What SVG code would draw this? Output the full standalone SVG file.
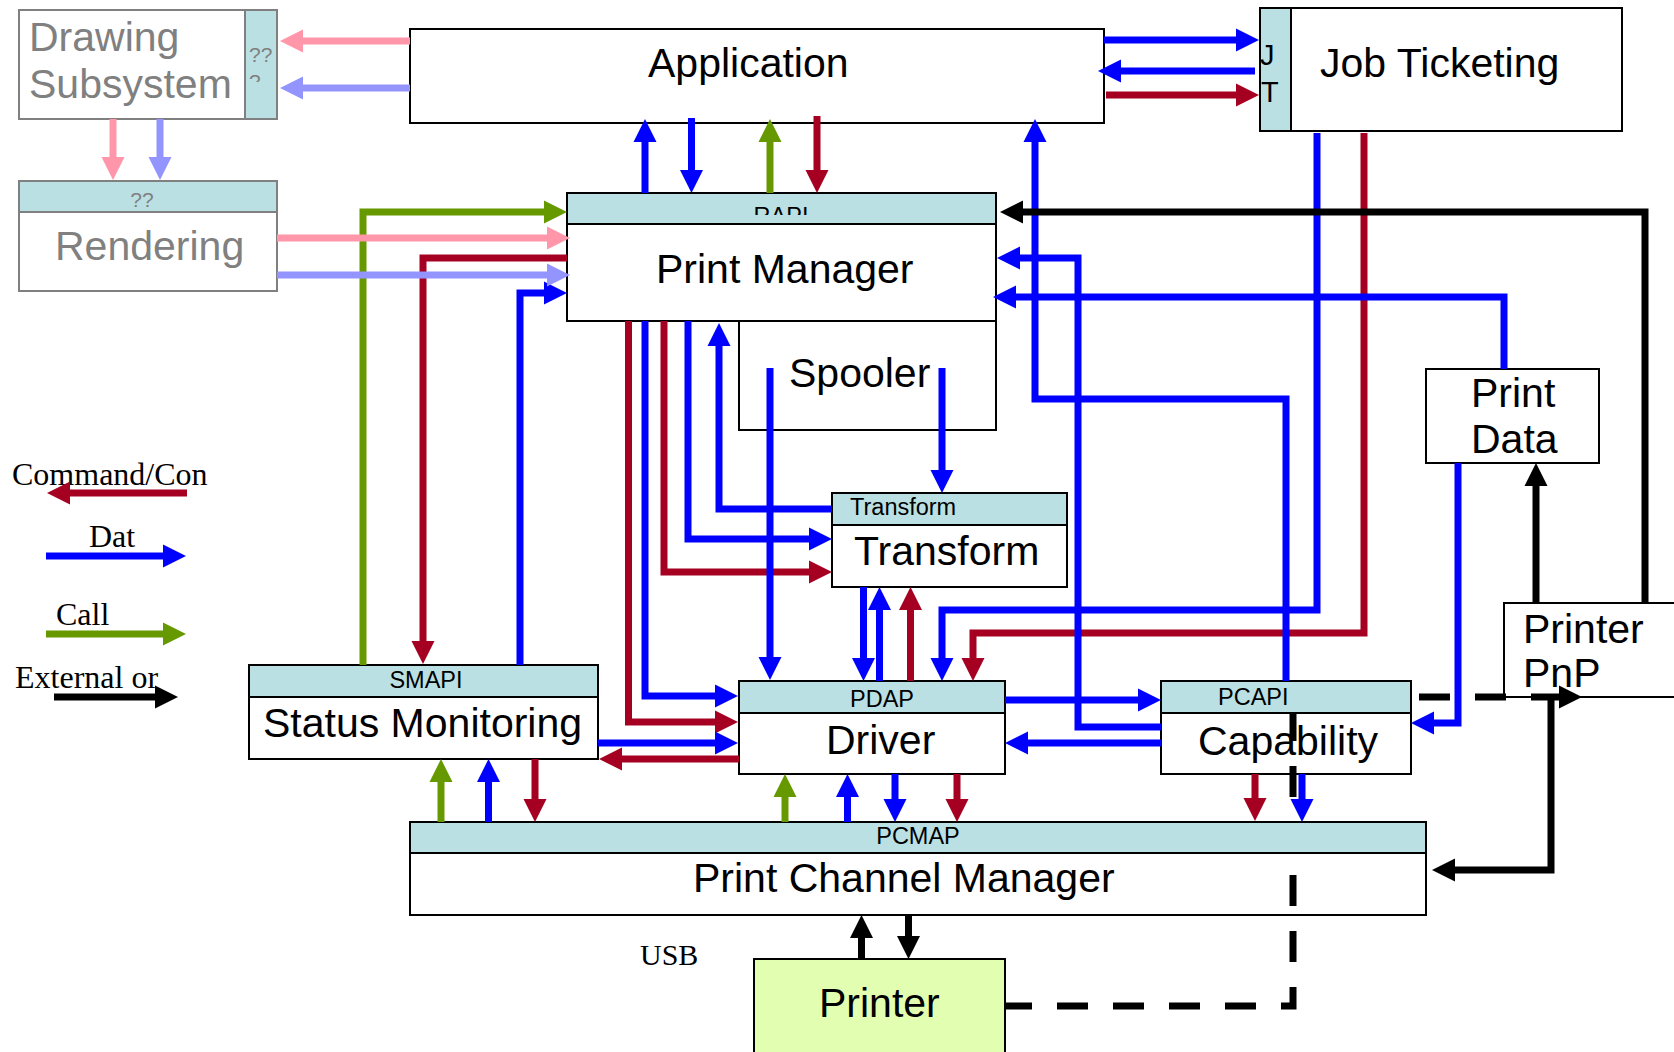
<svg xmlns="http://www.w3.org/2000/svg" width="1674" height="1052" viewBox="0 0 1674 1052">
<style>
.box{fill:#fff;stroke:#000;stroke-width:2}
.tab{fill:#bbe0e3;stroke:#000;stroke-width:2}
.gbox{fill:#fff;stroke:#808080;stroke-width:2}
.gtab{fill:#bbe0e3;stroke:#808080;stroke-width:2}
.t{font-family:"Liberation Sans",Arial,sans-serif;font-size:41px;fill:#000}
.g{fill:#808080}
.s{font-family:"Liberation Sans",Arial,sans-serif;font-size:23.5px;fill:#000}
.sg{font-family:"Liberation Sans",Arial,sans-serif;font-size:21px;fill:#808080}
.leg{font-family:"Liberation Serif","Times New Roman",serif;font-size:32px;fill:#000}
.c{fill:none;stroke-width:7;stroke-linejoin:miter}
.red{stroke:#a50021}
.blue{stroke:#0000ff}
.green{stroke:#669900}
.pink{stroke:#ff96aa}
.lav{stroke:#9494ff}
.black{stroke:#000}
.dash{stroke-dasharray:31 25}
</style>
<defs>
<marker id="mRed" markerUnits="userSpaceOnUse" markerWidth="23" markerHeight="23" refX="13" refY="11.5" orient="auto" overflow="visible"><path d="M0,0 L23,11.5 L0,23 z" fill="#a50021"/></marker>
<marker id="mBlue" markerUnits="userSpaceOnUse" markerWidth="23" markerHeight="23" refX="13" refY="11.5" orient="auto" overflow="visible"><path d="M0,0 L23,11.5 L0,23 z" fill="#0000ff"/></marker>
<marker id="mGreen" markerUnits="userSpaceOnUse" markerWidth="23" markerHeight="23" refX="13" refY="11.5" orient="auto" overflow="visible"><path d="M0,0 L23,11.5 L0,23 z" fill="#669900"/></marker>
<marker id="mPink" markerUnits="userSpaceOnUse" markerWidth="23" markerHeight="23" refX="13" refY="11.5" orient="auto" overflow="visible"><path d="M0,0 L23,11.5 L0,23 z" fill="#ff96aa"/></marker>
<marker id="mLav" markerUnits="userSpaceOnUse" markerWidth="23" markerHeight="23" refX="13" refY="11.5" orient="auto" overflow="visible"><path d="M0,0 L23,11.5 L0,23 z" fill="#9494ff"/></marker>
<marker id="mBlack" markerUnits="userSpaceOnUse" markerWidth="23" markerHeight="23" refX="13" refY="11.5" orient="auto" overflow="visible"><path d="M0,0 L23,11.5 L0,23 z" fill="#000"/></marker>
<clipPath id="clipRapi"><rect x="567" y="193" width="429" height="22"/></clipPath>
<clipPath id="clipQ"><rect x="245" y="10" width="32" height="72"/></clipPath>
</defs>

<rect width="1674" height="1052" fill="#fff"/>

<g id="drawing-subsystem">
<rect class="gbox" x="19" y="10" width="258" height="109"/>
<rect class="gtab" x="245" y="10" width="32" height="109"/>
<text class="t g" x="29" y="51">Drawing</text>
<text class="t g" x="29" y="98">Subsystem</text>
<g clip-path="url(#clipQ)">
<text class="sg" x="249" y="62">??</text>
<text class="sg" x="249" y="89">?</text>
</g>
</g>

<g id="rendering">
<rect class="gbox" x="19" y="181" width="258" height="110"/>
<rect class="gtab" x="19" y="181" width="258" height="31"/>
<text class="sg" x="142" y="207" text-anchor="middle">??</text>
<text class="t g" x="55" y="260">Rendering</text>
</g>

<g id="application">
<rect class="box" x="410" y="29" width="694" height="94"/>
<text class="t" x="648" y="77">Application</text>
</g>

<g id="job-ticketing">
<rect class="box" x="1291" y="8" width="331" height="123"/>
<rect class="tab" x="1260" y="8" width="31" height="123"/>
<text class="t" x="1260" y="65" style="font-size:29px">J</text>
<text class="t" x="1261" y="102" style="font-size:29px">T</text>
<text class="t" x="1320" y="77">Job Ticketing</text>
</g>

<g id="print-manager">
<rect class="tab" x="567" y="193" width="429" height="31"/>
<text class="s" x="781" y="224" text-anchor="middle" clip-path="url(#clipRapi)">RAPI</text>
<rect class="box" x="567" y="224" width="429" height="97"/>
<text class="t" x="656" y="283">Print Manager</text>
</g>

<g id="spooler">
<rect class="box" x="739" y="321" width="257" height="109"/>
<text class="t" x="789" y="387">Spooler</text>
</g>

<g id="transform">
<rect class="box" x="832" y="525" width="235" height="62"/>
<rect class="tab" x="832" y="493" width="235" height="32"/>
<text class="s" x="850" y="515">Transform</text>
<text class="t" x="854" y="565">Transform</text>
</g>

<g id="driver">
<rect class="box" x="739" y="713" width="266" height="61"/>
<rect class="tab" x="739" y="681" width="266" height="32"/>
<text class="s" x="882" y="707" text-anchor="middle">PDAP</text>
<text class="t" x="826" y="754">Driver</text>
</g>

<g id="status-monitoring">
<rect class="box" x="249" y="697" width="349" height="62"/>
<rect class="tab" x="249" y="665" width="349" height="32"/>
<text class="s" x="426" y="688" text-anchor="middle">SMAPI</text>
<text class="t" x="263" y="737">Status Monitoring</text>
</g>

<g id="capability">
<rect class="box" x="1161" y="713" width="250" height="61"/>
<rect class="tab" x="1161" y="681" width="250" height="32"/>
<text class="s" x="1218" y="705">PCAPI</text>
<text class="t" x="1198" y="755">Capability</text>
</g>

<g id="print-channel-manager">
<rect class="box" x="410" y="853" width="1016" height="62"/>
<rect class="tab" x="410" y="822" width="1016" height="31"/>
<text class="s" x="918" y="844" text-anchor="middle">PCMAP</text>
<text class="t" x="693" y="892">Print Channel Manager</text>
</g>

<g id="printer">
<rect x="754" y="959" width="251" height="100" fill="#e2ffb1" stroke="#000" stroke-width="2"/>
<text class="t" x="819" y="1017">Printer</text>
</g>

<g id="print-data">
<rect class="box" x="1426" y="369" width="173" height="94"/>
<text class="t" x="1471" y="407">Print</text>
<text class="t" x="1471" y="453">Data</text>
</g>

<g id="printer-pnp">
<rect class="box" x="1504" y="603" width="180" height="94"/>
<text class="t" x="1523" y="643">Printer</text>
<text class="t" x="1523" y="687">PnP</text>
</g>

<g id="legend">
<text class="leg" x="12" y="485">Command/Con</text>
<text class="leg" x="89" y="547">Dat</text>
<text class="leg" x="56" y="625">Call</text>
<text class="leg" x="15" y="688">External or</text>
<text class="leg" x="640" y="965" style="font-size:30px">USB</text>
</g>

<g id="connectors">
<path class="c green" marker-end="url(#mGreen)" d="M363,665 V212 H557"/>
<path class="c green" marker-end="url(#mGreen)" d="M770,193 V129"/>
<path class="c green" marker-end="url(#mGreen)" d="M441,822 V769"/>
<path class="c green" marker-end="url(#mGreen)" d="M785,822 V784"/>
<path class="c green" marker-end="url(#mGreen)" d="M46,634 H176"/>

<path class="c red" marker-end="url(#mRed)" d="M567,258 H423 V654"/>
<path class="c red" marker-end="url(#mRed)" d="M817,116 V183"/>
<path class="c red" marker-end="url(#mRed)" d="M1106,95 H1249"/>
<path class="c red" marker-end="url(#mRed)" d="M628.5,321 V722 H728"/>
<path class="c red" marker-end="url(#mRed)" d="M664,321 V572 H822"/>
<path class="c red" marker-end="url(#mRed)" d="M910.5,681 V597"/>
<path class="c red" marker-end="url(#mRed)" d="M1364,133 V633 H973 V671"/>
<path class="c red" marker-end="url(#mRed)" d="M739,759 H609"/>
<path class="c red" marker-end="url(#mRed)" d="M535,759 V812"/>
<path class="c red" marker-end="url(#mRed)" d="M957,774 V812"/>
<path class="c red" marker-end="url(#mRed)" d="M1255,774 V811"/>
<path class="c red" marker-end="url(#mRed)" d="M187,493 H57"/>

<path class="c blue" marker-end="url(#mBlue)" d="M1104,40 H1249"/>
<path class="c blue" marker-end="url(#mBlue)" d="M1255,71 H1108"/>
<path class="c blue" marker-end="url(#mBlue)" d="M645,193 V129"/>
<path class="c blue" marker-end="url(#mBlue)" d="M691.5,118 V183"/>
<path class="c blue" marker-end="url(#mBlue)" d="M1286,681 V399 H1035 V129"/>
<path class="c blue" marker-end="url(#mBlue)" d="M520,665 V293 H557"/>
<path class="c blue" marker-end="url(#mBlue)" d="M1161,727 H1078 V258 H1007"/>
<path class="c blue" marker-end="url(#mBlue)" d="M1504,369 V297 H1003"/>
<path class="c blue" marker-end="url(#mBlue)" d="M645,321 V696 H728"/>
<path class="c blue" marker-end="url(#mBlue)" d="M688,321 V539 H822"/>
<path class="c blue" marker-end="url(#mBlue)" d="M832,509 H719 V333"/>
<path class="c blue" marker-end="url(#mBlue)" d="M770,368 V670"/>
<path class="c blue" marker-end="url(#mBlue)" d="M942,368 V483"/>
<path class="c blue" marker-end="url(#mBlue)" d="M863.5,587 V671"/>
<path class="c blue" marker-end="url(#mBlue)" d="M879.5,681 V597"/>
<path class="c blue" marker-end="url(#mBlue)" d="M1317,133 V610 H942 V671"/>
<path class="c blue" marker-end="url(#mBlue)" d="M598,743 H728"/>
<path class="c blue" marker-end="url(#mBlue)" d="M1005,700 H1151"/>
<path class="c blue" marker-end="url(#mBlue)" d="M1161,743 H1015"/>
<path class="c blue" marker-end="url(#mBlue)" d="M1458,463 V723 H1421"/>
<path class="c blue" marker-end="url(#mBlue)" d="M488.5,822 V769"/>
<path class="c blue" marker-end="url(#mBlue)" d="M847.5,822 V784"/>
<path class="c blue" marker-end="url(#mBlue)" d="M895,774 V812"/>
<path class="c blue" marker-end="url(#mBlue)" d="M1302,774 V812"/>
<path class="c blue" marker-end="url(#mBlue)" d="M46,556 H176"/>

<path class="c black" marker-end="url(#mBlack)" d="M1645,603 V212 H1010"/>
<path class="c black" marker-end="url(#mBlack)" d="M1536,603 V473"/>
<path class="c black" marker-end="url(#mBlack)" d="M1551,697 V870 H1442"/>
<path class="c black" marker-end="url(#mBlack)" d="M861.5,959 V925"/>
<path class="c black" marker-end="url(#mBlack)" d="M908.5,915 V949"/>
<path class="c black dash" style="stroke-dashoffset:4" d="M1005,1006 H1293 V853"/>
<path class="c black dash" style="stroke-dashoffset:31" d="M1293,822 V713"/>
<path class="c black dash" marker-end="url(#mBlack)" d="M1419,697 H1572"/>
<path class="c black" marker-end="url(#mBlack)" d="M54,697 H168"/>

<path class="c pink" marker-end="url(#mPink)" d="M410,41 H290"/>
<path class="c pink" marker-end="url(#mPink)" d="M113,119 V170"/>
<path class="c pink" marker-end="url(#mPink)" d="M277,238 H560"/>
<path class="c lav" marker-end="url(#mLav)" d="M410,88 H290"/>
<path class="c lav" marker-end="url(#mLav)" d="M160,119 V170"/>
<path class="c lav" marker-end="url(#mLav)" d="M277,275 H560"/>
</g>
</svg>
